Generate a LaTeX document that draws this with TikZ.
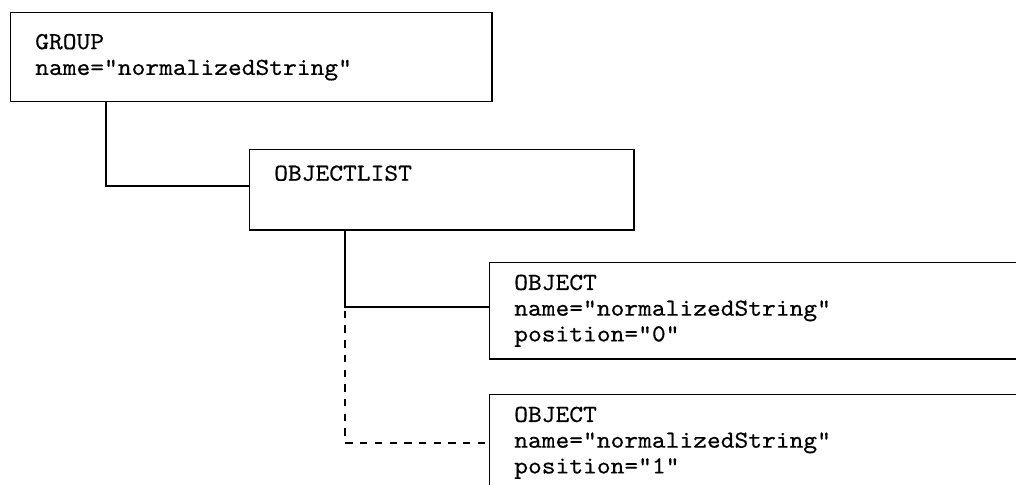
\documentclass[tikz,border=0pt]{standalone}
\usepackage{fontspec}
\setmonofont{Latin Modern Mono}[FakeStretch=1.07,FakeBold=0.4]
\usetikzlibrary{positioning}
\newcommand{\stem}{39.2pt}

\begin{document}
\begin{tikzpicture}[x=0.408pt,y=-0.408pt,line width=0.6pt,
        element/.style={draw,anchor=north west,align=left,inner xsep=10pt,inner ysep=0pt,
          font=\ttfamily\fontsize{10}{10.5}\selectfont}]
      \useasboundingbox (0,0) rectangle (1016,484);
      \clip (0,0) rectangle (1016,484);

      \node[element,text width=176.3pt,minimum height=36.3pt] (group) at (10,12) {GROUP\\name="normalizedString"};
      \node[element,text width=136.7pt,minimum height=32.7pt] (objlist) at (249,149) {OBJECTLIST\\\strut};
      \node[element,text width=224.9pt,minimum height=39.2pt] (obj0) at (489,262) {OBJECT\\name="normalizedString"\\position="0"};
      \node[element,text width=224.9pt,minimum height=39.2pt] (obj1) at (489,394) {OBJECT\\name="normalizedString"\\position="1"};

      \coordinate (branch) at ([xshift=\stem]objlist.south west);
      \draw ([xshift=\stem]group.south west) |- ([yshift=1.6pt]objlist.west);
      \draw (branch) |- ([yshift=1.6pt]obj0.west);
      \draw[dashed] (branch |- obj0.west) |- (obj1.west);
    \end{tikzpicture}
\end{document}
